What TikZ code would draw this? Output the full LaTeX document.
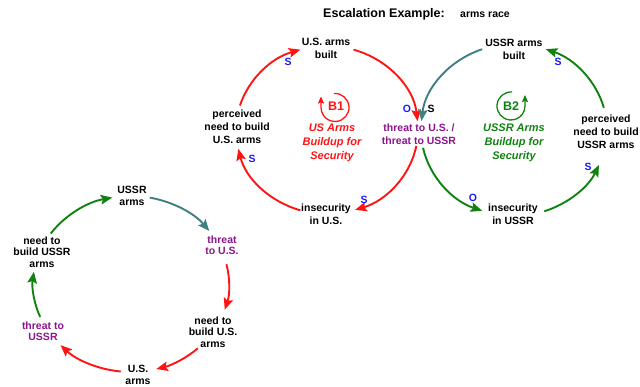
\documentclass[tikz,border=0pt]{standalone}
\usepackage{fontspec}
\setmainfont{Liberation Sans}
\usetikzlibrary{arrows.meta}
\definecolor{cred}{RGB}{255,20,20}
\definecolor{cgreen}{RGB}{16,130,16}
\definecolor{cteal}{RGB}{64,128,128}
\definecolor{cpurple}{RGB}{140,20,140}
\definecolor{cblue}{RGB}{25,25,245}
\tikzset{
  lbl/.style={align=center, inner sep=0pt, font=\fontsize{10.5}{13}\selectfont\bfseries},
  lbls/.style={align=center, inner sep=0pt, font=\fontsize{10.5}{11.5}\selectfont\bfseries},
  pur/.style={text=cpurple},
  pol/.style={inner sep=0pt, font=\fontsize{10.5}{11}\selectfont\bfseries, text=cblue},
  loopname/.style={align=center, inner sep=0pt, font=\fontsize{11}{14}\selectfont\bfseries\itshape},
  conn/.style={line width=1.9pt, -{Stealth[length=11.5pt,width=9.5pt,inset=2pt]}},
  rl/.style={conn, cred}, gl/.style={conn, cgreen}, tl/.style={conn, cteal},
  loopA/.style={x radius=91, y radius=84},
  loopB/.style={x radius=93, y radius=86},
  loopC/.style={x radius=98, y radius=88},
  sym/.style={line width=1.3pt, -{Stealth[length=7pt,width=6pt,inset=1pt]}},
}
\begin{document}
\begin{tikzpicture}[x=1pt,y=1pt]
\path[use as bounding box] (0,0) rectangle (640,-387);
% title
\node[inner sep=0pt, font=\fontsize{12.5}{14}\selectfont\bfseries] (title) at (384,-14) {Escalation Example:};
\node[inner sep=0pt, font=\fontsize{10.5}{12}\selectfont\bfseries] (sub) at (485,-15) {arms race};
% centres
\coordinate (cA) at (327,-130);
\coordinate (cB) at (514,-130);
\coordinate (cC) at (131,-284);
% top nodes
\node[lbl] (usb) at (326,-48) {U.S. arms\\built};
\node[lbl] (pus) at (237,-127) {perceived\\need to build\\U.S. arms};
\node[lbl] (ius) at (326,-214) {insecurity\\in U.S.};
\node[lbl,pur] (thr) at (419,-134) {threat to U.S. /\\threat to USSR};
\node[lbl] (ussb) at (514,-49) {USSR arms\\built};
\node[lbl] (puss) at (606,-132) {perceived\\need to build\\USSR arms};
\node[lbl] (iuss) at (513,-214) {insecurity\\in USSR};
% left loop (clockwise)
\draw[rl, loopA] ([shift={(163:91 and 84)}]cA) arc[start angle=163, end angle=107];
\draw[rl, loopA] ([shift={(73:91 and 84)}]cA) arc[start angle=73, end angle=6];
\draw[rl, loopA] ([shift={(-11:91 and 84)}]cA) arc[start angle=-11, end angle=-72];
\draw[rl, loopA] ([shift={(-107:91 and 84)}]cA) arc[start angle=-107, end angle=-167];
% right loop (counterclockwise)
\draw[tl, loopB] ([shift={(110:93 and 86)}]cB) arc[start angle=110, end angle=174];
\draw[gl, loopB] ([shift={(192:93 and 86)}]cB) arc[start angle=192, end angle=250];
\draw[gl, loopB] ([shift={(-71:93 and 86)}]cB) arc[start angle=-71, end angle=-24];
\draw[gl, loopB] ([shift={(15:93 and 86)}]cB) arc[start angle=15, end angle=70];
% polarities
\node[pol] (p1) at (288,-62) {S};
\node[pol] (p2) at (407,-109) {O};
\node[pol, text=black] (p3) at (431,-109) {S};
\node[pol] (p4) at (252,-159) {S};
\node[pol] (p5) at (364,-200) {S};
\node[pol] (p6) at (558,-62) {S};
\node[pol] (p7) at (473,-198) {O};
\node[pol] (p8) at (588,-167) {S};
% loop symbols
\coordinate (b1c) at (335,-107.5);
\draw[sym, cred] ([shift={(95:14)}]b1c) arc[start angle=95, end angle=-180, radius=14] -- ++(0,11);
\node[inner sep=0pt, text=cred, font=\fontsize{12.5}{14}\selectfont\bfseries] (b1) at (336,-106.5) {B1};
\coordinate (b2c) at (511,-106);
\draw[sym, cgreen] ([shift={(85:14)}]b2c) arc[start angle=85, end angle=360, radius=14] -- ++(0,11);
\node[inner sep=0pt, text=cgreen, font=\fontsize{12.5}{14}\selectfont\bfseries] (b2) at (511,-106) {B2};
\node[loopname, text=cred] (n1) at (332,-143) {US Arms\\Buildup for\\Security};
\node[loopname, text=cgreen] (n2) at (514,-143) {USSR Arms\\Buildup for\\Security};
% bottom-left loop
\node[lbls] (ua) at (132,-196) {USSR\\arms};
\node[lbls,pur] (tus) at (222,-245) {threat\\to U.S.};
\node[lbls] (nbu) at (213,-332) {need to\\build U.S.\\arms};
\node[lbls] (usa) at (138,-375) {U.S.\\arms};
\node[lbls,pur] (tuss) at (43,-331) {threat to\\USSR};
\node[lbls] (nbuss) at (42,-252) {need to\\build USSR\\arms};
\draw[tl, loopC] ([shift={(79:98 and 88)}]cC) arc[start angle=79, end angle=37];
\draw[rl, loopC] ([shift={(13:98 and 88)}]cC) arc[start angle=13, end angle=-17];
\draw[rl, loopC] ([shift={(-47:98 and 88)}]cC) arc[start angle=-47, end angle=-75];
\draw[rl, loopC] ([shift={(-96:98 and 88)}]cC) arc[start angle=-96, end angle=-136];
\draw[gl, loopC] ([shift={(202:98 and 88)}]cC) arc[start angle=202, end angle=172];
\draw[gl, loopC] ([shift={(145:98 and 88)}]cC) arc[start angle=145, end angle=101];
\end{tikzpicture}
\end{document}
